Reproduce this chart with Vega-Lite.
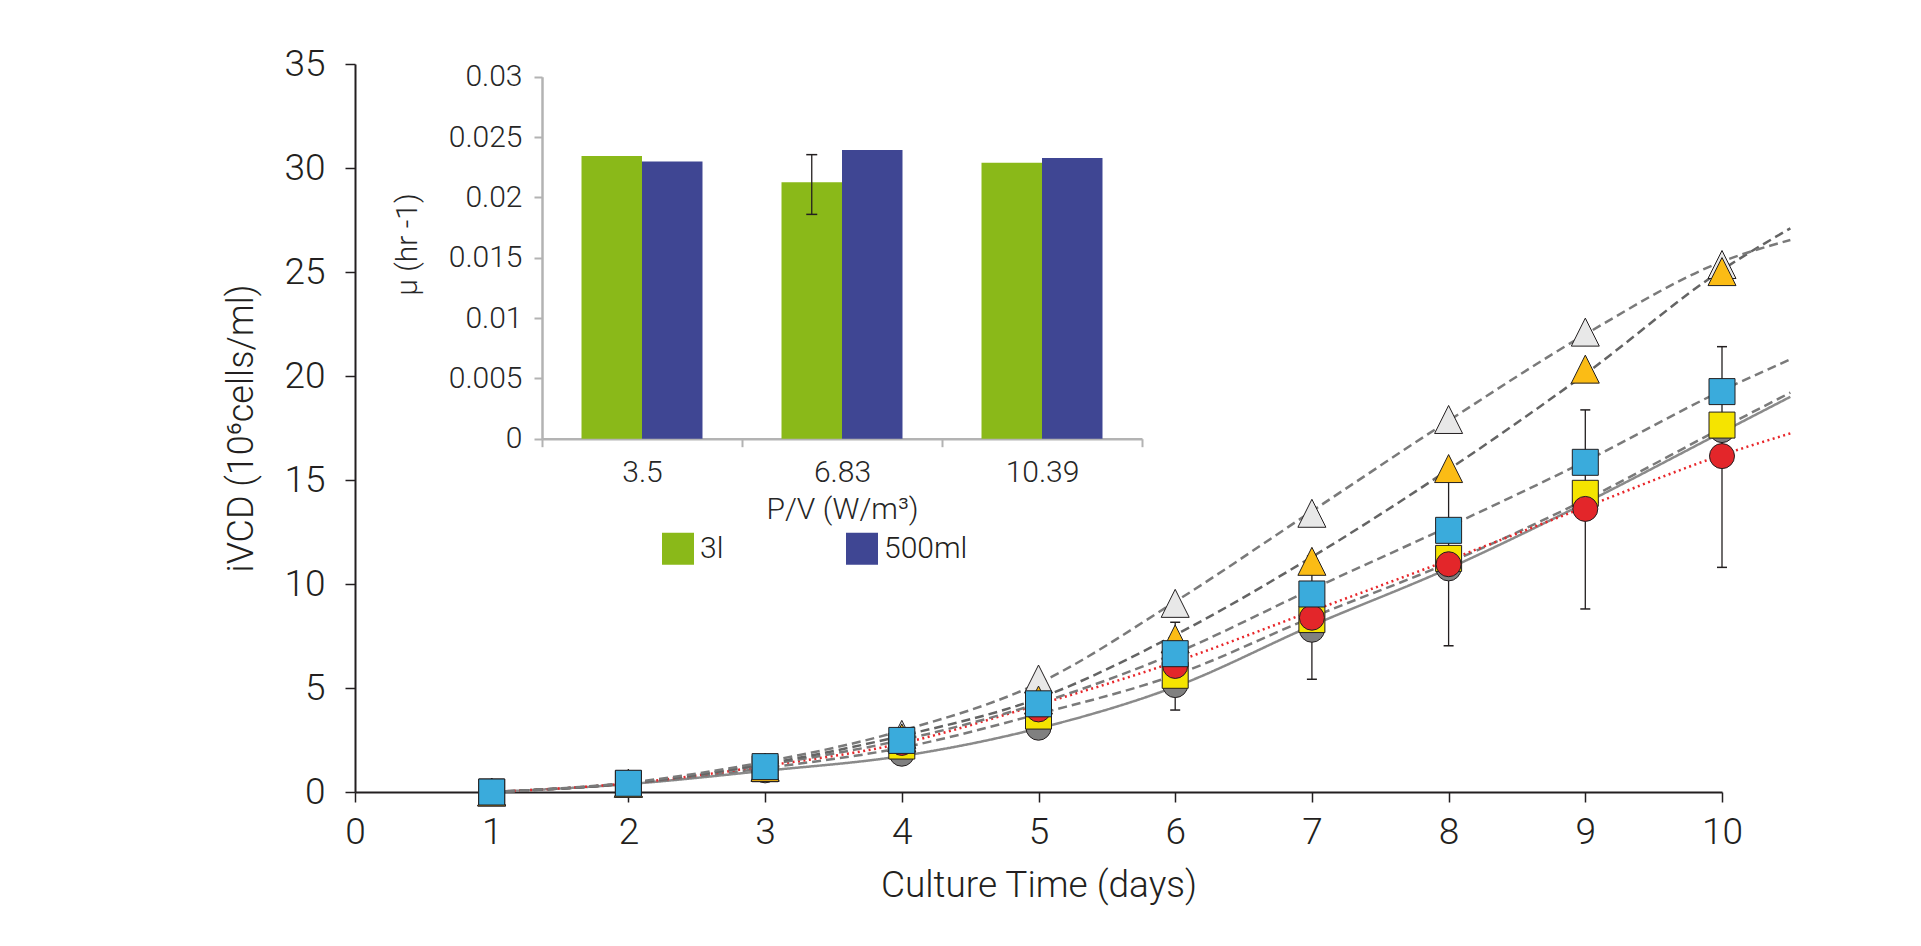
{
  "$schema": "https://vega.github.io/schema/vega-lite/v6.json",
  "width": 1367,
  "height": 728,
  "autosize": {"type": "none"},
  "padding": {"left": 355, "top": 64, "right": 199, "bottom": 154},
  "background": "white",
  "config": {
    "view": {"stroke": null},
    "font": "Roboto",
    "axis": {"grid": false}
  },
  "datasets": {
    "curves": [
      {"s": "grey", "day": 1, "v": 0}, {"s": "grey", "day": 2, "v": 0.38}, {"s": "grey", "day": 3, "v": 1.02}, {"s": "grey", "day": 4, "v": 1.73}, {"s": "grey", "day": 5, "v": 3.06}, {"s": "grey", "day": 6, "v": 5.06}, {"s": "grey", "day": 7, "v": 8.0}, {"s": "grey", "day": 8, "v": 10.75}, {"s": "grey", "day": 9, "v": 13.9}, {"s": "grey", "day": 10, "v": 17.3}, {"s": "grey", "day": 10.5, "v": 19.0},
      {"s": "yellow", "day": 1, "v": 0}, {"s": "yellow", "day": 2, "v": 0.4}, {"s": "yellow", "day": 3, "v": 1.15}, {"s": "yellow", "day": 4, "v": 2.13}, {"s": "yellow", "day": 5, "v": 3.75}, {"s": "yellow", "day": 6, "v": 5.63}, {"s": "yellow", "day": 7, "v": 8.4}, {"s": "yellow", "day": 8, "v": 11.02}, {"s": "yellow", "day": 9, "v": 14.05}, {"s": "yellow", "day": 10, "v": 17.5}, {"s": "yellow", "day": 10.5, "v": 19.2},
      {"s": "red", "day": 1, "v": 0}, {"s": "red", "day": 2, "v": 0.42}, {"s": "red", "day": 3, "v": 1.25}, {"s": "red", "day": 4, "v": 2.34}, {"s": "red", "day": 5, "v": 4.2}, {"s": "red", "day": 6, "v": 6.26}, {"s": "red", "day": 7, "v": 8.7}, {"s": "red", "day": 8, "v": 11.15}, {"s": "red", "day": 9, "v": 13.7}, {"s": "red", "day": 10, "v": 16.2}, {"s": "red", "day": 10.5, "v": 17.24},
      {"s": "blue", "day": 1, "v": 0}, {"s": "blue", "day": 2, "v": 0.42}, {"s": "blue", "day": 3, "v": 1.3}, {"s": "blue", "day": 4, "v": 2.5}, {"s": "blue", "day": 5, "v": 4.26}, {"s": "blue", "day": 6, "v": 6.67}, {"s": "blue", "day": 7, "v": 9.75}, {"s": "blue", "day": 8, "v": 12.76}, {"s": "blue", "day": 9, "v": 15.9}, {"s": "blue", "day": 10, "v": 19.3}, {"s": "blue", "day": 10.5, "v": 20.8},
      {"s": "orange", "day": 1, "v": 0}, {"s": "orange", "day": 2, "v": 0.42}, {"s": "orange", "day": 3, "v": 1.35}, {"s": "orange", "day": 4, "v": 2.7}, {"s": "orange", "day": 5, "v": 4.5}, {"s": "orange", "day": 6, "v": 7.55}, {"s": "orange", "day": 7, "v": 11.3}, {"s": "orange", "day": 8, "v": 15.5}, {"s": "orange", "day": 9, "v": 20.1}, {"s": "orange", "day": 10, "v": 25.1}, {"s": "orange", "day": 10.5, "v": 27.1},
      {"s": "light", "day": 1, "v": 0}, {"s": "light", "day": 2, "v": 0.45}, {"s": "light", "day": 3, "v": 1.45}, {"s": "light", "day": 4, "v": 2.95}, {"s": "light", "day": 5, "v": 5.23}, {"s": "light", "day": 6, "v": 9.15}, {"s": "light", "day": 7, "v": 13.5}, {"s": "light", "day": 8, "v": 17.85}, {"s": "light", "day": 9, "v": 22.0}, {"s": "light", "day": 10, "v": 25.5}, {"s": "light", "day": 10.5, "v": 26.54}
    ],
    "pts": [
      {"s": "grey", "day": 1, "v": 0}, {"s": "grey", "day": 2, "v": 0.38}, {"s": "grey", "day": 3, "v": 1.04}, {"s": "grey", "day": 4, "v": 1.84}, {"s": "grey", "day": 5, "v": 3.09}, {"s": "grey", "day": 6, "v": 5.14}, {"s": "grey", "day": 7, "v": 7.8}, {"s": "grey", "day": 8, "v": 10.75}, {"s": "grey", "day": 9, "v": 14.0}, {"s": "grey", "day": 10, "v": 17.4},
      {"s": "yellow", "day": 1, "v": 0}, {"s": "yellow", "day": 2, "v": 0.4}, {"s": "yellow", "day": 3, "v": 1.12}, {"s": "yellow", "day": 4, "v": 2.21}, {"s": "yellow", "day": 5, "v": 3.65}, {"s": "yellow", "day": 6, "v": 5.61}, {"s": "yellow", "day": 7, "v": 8.29}, {"s": "yellow", "day": 8, "v": 11.23}, {"s": "yellow", "day": 9, "v": 14.36}, {"s": "yellow", "day": 10, "v": 17.64},
      {"s": "red", "day": 1, "v": 0}, {"s": "red", "day": 2, "v": 0.4}, {"s": "red", "day": 3, "v": 1.1}, {"s": "red", "day": 4, "v": 2.36}, {"s": "red", "day": 5, "v": 3.97}, {"s": "red", "day": 6, "v": 6.06}, {"s": "red", "day": 7, "v": 8.38}, {"s": "red", "day": 8, "v": 10.95}, {"s": "red", "day": 9, "v": 13.61}, {"s": "red", "day": 10, "v": 16.15},
      {"s": "light", "day": 1, "v": 0}, {"s": "light", "day": 2, "v": 0.42}, {"s": "light", "day": 3, "v": 1.2}, {"s": "light", "day": 4, "v": 2.77}, {"s": "light", "day": 5, "v": 5.43}, {"s": "light", "day": 6, "v": 9.07}, {"s": "light", "day": 7, "v": 13.4}, {"s": "light", "day": 8, "v": 17.91}, {"s": "light", "day": 9, "v": 22.11}, {"s": "light", "day": 10, "v": 25.36},
      {"s": "orange", "day": 1, "v": 0}, {"s": "orange", "day": 2, "v": 0.42}, {"s": "orange", "day": 3, "v": 1.18}, {"s": "orange", "day": 4, "v": 2.6}, {"s": "orange", "day": 5, "v": 4.42}, {"s": "orange", "day": 6, "v": 7.36}, {"s": "orange", "day": 7, "v": 11.09}, {"s": "orange", "day": 8, "v": 15.55}, {"s": "orange", "day": 9, "v": 20.33}, {"s": "orange", "day": 10, "v": 25.02},
      {"s": "blue", "day": 1, "v": 0}, {"s": "blue", "day": 2, "v": 0.42}, {"s": "blue", "day": 3, "v": 1.22}, {"s": "blue", "day": 4, "v": 2.48}, {"s": "blue", "day": 5, "v": 4.24}, {"s": "blue", "day": 6, "v": 6.65}, {"s": "blue", "day": 7, "v": 9.52}, {"s": "blue", "day": 8, "v": 12.58}, {"s": "blue", "day": 9, "v": 15.85}, {"s": "blue", "day": 10, "v": 19.25}
    ],
    "errs": [
      {"day": 6, "lo": 3.94, "hi": 8.16},
      {"day": 7, "lo": 5.42, "hi": 11.35},
      {"day": 8, "lo": 7.03, "hi": 14.97},
      {"day": 9, "lo": 8.8, "hi": 18.37},
      {"day": 10, "lo": 10.8, "hi": 21.41}
    ],
    "bars": [
      {"pv": "3.5", "vessel": "3l", "mu": 0.02342},
      {"pv": "3.5", "vessel": "500ml", "mu": 0.02297},
      {"pv": "6.83", "vessel": "3l", "mu": 0.02125},
      {"pv": "6.83", "vessel": "500ml", "mu": 0.02392},
      {"pv": "10.39", "vessel": "3l", "mu": 0.02286},
      {"pv": "10.39", "vessel": "500ml", "mu": 0.02327}
    ],
    "ierr": [
      {"pv": "6.83", "vessel": "3l", "mu": 0.01859, "hi": 0.02354}
    ],
    "icaps": [
      {"pv": "6.83", "vessel": "3l", "mu": 0.01859},
      {"pv": "6.83", "vessel": "3l", "mu": 0.02354}
    ]
  },
  "layer": [
    {
      "layer": [
        {
          "data": {"name": "curves"},
          "mark": {"type": "line", "interpolate": "monotone", "strokeWidth": 2.5, "clip": false},
          "encoding": {
            "x": {
              "field": "day", "type": "quantitative",
              "scale": {"domain": [0, 10], "nice": false, "zero": false},
              "axis": {
                "title": "Culture Time (days)", "values": [0, 1, 2, 3, 4, 5, 6, 7, 8, 9, 10], "format": "d",
                "domainColor": "#231f20", "domainWidth": 2, "tickColor": "#231f20", "tickWidth": 1.5, "tickSize": 10,
                "labelFont": "Roboto", "labelFontWeight": 300, "labelFontSize": 37, "labelColor": "#231f20", "labelPadding": 12, "labelFlush": false,
                "titleFont": "Roboto", "titleFontWeight": 300, "titleFontSize": 37, "titleColor": "#231f20", "titlePadding": 17, "titleLimit": 2000
              }
            },
            "y": {
              "field": "v", "type": "quantitative",
              "scale": {"domain": [0, 35], "nice": false},
              "axis": {
                "title": "iVCD (10⁶cells/ml)", "values": [0, 5, 10, 15, 20, 25, 30, 35], "format": "d",
                "domainColor": "#231f20", "domainWidth": 2, "tickColor": "#231f20", "tickWidth": 1.5, "tickSize": 10,
                "labelFont": "Roboto", "labelFontWeight": 300, "labelFontSize": 37, "labelColor": "#231f20", "labelPadding": 20, "labelFlush": false,
                "titleFont": "Roboto", "titleFontWeight": 300, "titleFontSize": 36, "titleColor": "#231f20", "titlePadding": 23, "titleLimit": 2000
              }
            },
            "detail": {"field": "s", "type": "nominal"},
            "stroke": {
              "field": "s", "type": "nominal", "legend": null,
              "scale": {"domain": ["grey", "yellow", "red", "blue", "orange", "light"], "range": ["#8a8a8a", "#7a7a7a", "#e8262a", "#7a7a7a", "#646464", "#7a7a7a"]}
            },
            "strokeDash": {
              "field": "s", "type": "nominal", "legend": null,
              "scale": {"domain": ["grey", "yellow", "red", "blue", "orange", "light"], "range": [[1, 0], [9, 5], [2, 3.5], [9, 5], [9, 5], [9, 5]]}
            }
          }
        },
        {
          "data": {"name": "errs"},
          "mark": {"type": "rule", "color": "#231f20", "strokeWidth": 1.3},
          "encoding": {
            "x": {"field": "day", "type": "quantitative"},
            "y": {"field": "lo", "type": "quantitative"},
            "y2": {"field": "hi"}
          }
        },
        {
          "data": {"name": "errs"},
          "mark": {"type": "point", "shape": "M-1,0L1,0", "size": 100, "stroke": "#231f20", "strokeWidth": 1.5, "filled": false, "opacity": 1},
          "encoding": {
            "x": {"field": "day", "type": "quantitative"},
            "y": {"field": "lo", "type": "quantitative"}
          }
        },
        {
          "data": {"name": "errs"},
          "mark": {"type": "point", "shape": "M-1,0L1,0", "size": 100, "stroke": "#231f20", "strokeWidth": 1.5, "filled": false, "opacity": 1},
          "encoding": {
            "x": {"field": "day", "type": "quantitative"},
            "y": {"field": "hi", "type": "quantitative"}
          }
        },
        {
          "data": {"name": "pts"},
          "mark": {"type": "point", "filled": true, "opacity": 1, "stroke": "#231f20", "strokeWidth": 1},
          "encoding": {
            "x": {"field": "day", "type": "quantitative"},
            "y": {"field": "v", "type": "quantitative"},
            "shape": {
              "field": "s", "type": "nominal", "legend": null,
              "scale": {"domain": ["grey", "yellow", "red", "light", "orange", "blue"], "range": ["circle", "square", "circle", "M-1,1L1,1L0,-1Z", "M-1,1L1,1L0,-1Z", "square"]}
            },
            "fill": {
              "field": "s", "type": "nominal", "legend": null,
              "scale": {"domain": ["grey", "yellow", "red", "light", "orange", "blue"], "range": ["#808080", "#f5e400", "#e3262a", "#e8e8e8", "#fbbc15", "#3aabdc"]}
            },
            "size": {
              "field": "s", "type": "ordinal", "legend": null,
              "scale": {"type": "ordinal", "domain": ["grey", "yellow", "red", "light", "orange", "blue"], "range": [625, 676, 625, 784, 784, 676]}
            }
          }
        }
      ]
    },
    {
      "data": {"name": "bars"},
      "encoding": {
        "x": {
          "field": "pv", "type": "nominal", "sort": ["3.5", "6.83", "10.39"],
          "scale": {"range": [187, 787], "paddingInner": 0, "paddingOuter": 0},
          "axis": {
            "orient": "bottom", "offset": -353.3, "title": "P/V (W/m³)", "labelAngle": 0, "tickBand": "extent",
            "domainColor": "#b3b3b3", "domainWidth": 2.5, "tickColor": "#b3b3b3", "tickWidth": 2, "tickSize": 8,
            "labelFont": "Roboto", "labelFontWeight": 300, "labelFontSize": 30, "labelColor": "#262626", "labelPadding": 11,
            "titleFont": "Roboto", "titleFontWeight": 300, "titleFontSize": 30, "titleColor": "#262626", "titlePadding": 7, "titleLimit": 1000
          }
        },
        "xOffset": {
          "field": "vessel", "type": "nominal", "sort": ["3l", "500ml"],
          "scale": {"paddingInner": 0, "paddingOuter": 0.653}
        },
        "y": {
          "field": "mu", "type": "quantitative",
          "scale": {"domain": [0, 0.03], "range": [374.7, 12.7], "nice": false},
          "axis": {
            "orient": "left", "offset": -187, "title": "μ (hr -1)", "values": [0, 0.005, 0.01, 0.015, 0.02, 0.025, 0.03], "format": "~g",
            "domainColor": "#b3b3b3", "domainWidth": 2.5, "tickColor": "#b3b3b3", "tickWidth": 2, "tickSize": 8,
            "labelFont": "Roboto", "labelFontWeight": 300, "labelFontSize": 30, "labelColor": "#262626", "labelPadding": 12,
            "titleFont": "Roboto", "titleFontWeight": 300, "titleFontSize": 30, "titleColor": "#262626", "titlePadding": 26, "titleLimit": 1000, "titleY": 180
          }
        }
      },
      "layer": [
        {
          "mark": {"type": "bar"},
          "encoding": {
            "color": {
              "field": "vessel", "type": "nominal",
              "scale": {"domain": ["3l", "500ml"], "range": ["#8ab919", "#3f4693"]},
              "legend": {
                "orient": "none", "legendX": 307, "legendY": 468.7, "direction": "horizontal", "title": null,
                "symbolType": "square", "symbolSize": 1024, "symbolStrokeWidth": 0, "symbolOpacity": 1, "padding": 0,
                "labelFont": "Roboto", "labelFontWeight": 300, "labelFontSize": 30, "labelColor": "#231f20", "labelOffset": 6, "columnPadding": 122
              }
            }
          }
        },
        {
          "data": {"name": "ierr"},
          "mark": {"type": "rule", "color": "#231f20", "strokeWidth": 1.3},
          "encoding": {"y2": {"field": "hi"}}
        },
        {
          "data": {"name": "icaps"},
          "mark": {"type": "point", "shape": "M-1,0L1,0", "size": 121, "stroke": "#231f20", "strokeWidth": 1.5, "filled": false, "opacity": 1}
        }
      ]
    }
  ],
  "resolve": {
    "scale": {"x": "independent", "y": "independent"},
    "axis": {"x": "independent", "y": "independent"}
  }
}
